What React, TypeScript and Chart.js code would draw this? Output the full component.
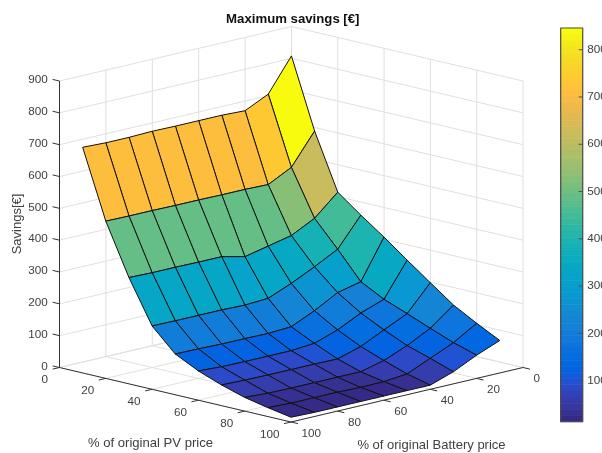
import React, { useEffect, useRef } from "react";
import { Chart, registerables } from "chart.js";

Chart.register(...registerables);

// ---- data ----
const pvPct = [10, 20, 30, 40, 50, 60, 70, 80, 90, 100];
const batteryPct = [100, 90, 80, 70, 60, 50, 40, 30, 20, 10];
const savingsPv10 = [709, 706, 706, 708, 707, 707, 707, 704, 739, 842];
const savingsPv20 = [494, 493, 493, 492, 492, 491, 491, 489, 526, 623];
const savingsPv30 = [334, 332, 332, 331, 331, 314, 330, 346, 383, 448];
const savingsPv40 = [199, 198, 198, 198, 196, 200, 230, 265, 303, 393];
const savingsPv50 = [128, 127, 125, 125, 124, 128, 161, 201, 218, 341];
const savingsPv60 = [92, 88, 87, 87, 87, 93, 118, 154, 180, 286];
const savingsPv70 = [65, 63, 62, 62, 62, 61, 83, 118, 152, 232];
const savingsPv80 = [43, 39, 38, 38, 38, 38, 56, 86, 123, 179];
const savingsPv90 = [28, 25, 25, 25, 23, 24, 31, 63, 95, 139];
const savingsPv100 = [15, 13, 13, 13, 13, 13, 13, 38, 73, 102];
const savingsRows = [
  savingsPv10, savingsPv20, savingsPv30, savingsPv40, savingsPv50,
  savingsPv60, savingsPv70, savingsPv80, savingsPv90, savingsPv100,
];
const axisTicks = [0, 20, 40, 60, 80, 100];
const zTicks = [0, 100, 200, 300, 400, 500, 600, 700, 800, 900];
const colorbarTicks = [100, 200, 300, 400, 500, 600, 700, 800];
const colorMin = 13;
const colorMax = 846;
const parula = [
  [0.2081,0.1663,0.5292],[0.2116,0.1898,0.5777],[0.2123,0.2138,0.627],[0.2081,0.2386,0.6771],
  [0.1959,0.2645,0.7279],[0.1707,0.2919,0.7792],[0.1253,0.3242,0.8303],[0.0591,0.3598,0.8683],
  [0.0117,0.3875,0.882],[0.006,0.4086,0.8828],[0.0165,0.4266,0.8786],[0.0329,0.443,0.872],
  [0.0498,0.4586,0.8641],[0.0629,0.4737,0.8554],[0.0723,0.4887,0.8467],[0.0779,0.504,0.8384],
  [0.0793,0.52,0.8312],[0.0749,0.5375,0.8263],[0.0641,0.557,0.824],[0.0488,0.5772,0.8228],
  [0.0343,0.5966,0.8199],[0.0265,0.6137,0.8135],[0.0239,0.6287,0.8038],[0.0231,0.6418,0.7913],
  [0.0228,0.6535,0.7768],[0.0267,0.6642,0.7607],[0.0384,0.6743,0.7436],[0.059,0.6838,0.7254],
  [0.0843,0.6928,0.7062],[0.1133,0.7015,0.6859],[0.1453,0.7098,0.6646],[0.1801,0.7177,0.6424],
  [0.2178,0.725,0.6193],[0.2586,0.7317,0.5954],[0.3022,0.7376,0.5712],[0.3482,0.7424,0.5473],
  [0.3953,0.7459,0.5244],[0.442,0.7481,0.5033],[0.4871,0.7491,0.484],[0.53,0.7491,0.4661],
  [0.5709,0.7485,0.4494],[0.6099,0.7473,0.4337],[0.6473,0.7456,0.4188],[0.6834,0.7435,0.4044],
  [0.7184,0.7411,0.3905],[0.7525,0.7384,0.3768],[0.7858,0.7356,0.3633],[0.8185,0.7327,0.3498],
  [0.8507,0.7299,0.336],[0.8824,0.7274,0.3217],[0.9139,0.7258,0.3063],[0.945,0.7261,0.2886],
  [0.9739,0.7314,0.2666],[0.9938,0.7455,0.2403],[0.999,0.7653,0.2164],[0.9955,0.7861,0.1967],
  [0.988,0.8066,0.1794],[0.9789,0.8271,0.1633],[0.9697,0.8481,0.1475],[0.9626,0.8705,0.1309],
  [0.9589,0.8949,0.1132],[0.9598,0.9218,0.0948],[0.9661,0.9514,0.0755],[0.9763,0.9831,0.0538],
];

// ---- view of the 3-D box: where a (pv, battery, savings) triple lands in plot units ----
const W = 602;
const H = 453;
const BAR_LEFT = 560.7;
const BAR_RIGHT = 582.7;
const BAR_TOP = 28;
const BAR_BOTTOM = 421.7;
const view = { x0: 59.5, y0: 367.5, xp: 2.315, xb: 2.32, yp: 0.545, yb: 0.545, yz: 0.3183 };
const project = (pv: number, batt: number, z: number) => ({
  x: view.x0 + view.xp * pv + view.xb * (100 - batt),
  y: view.y0 + view.yp * pv - view.yb * (100 - batt) - view.yz * z,
});

const toCss = (c: number[]) =>
  `rgb(${Math.round(c[0] * 255)},${Math.round(c[1] * 255)},${Math.round(c[2] * 255)})`;
const colorOf = (z: number) => {
  const n = parula.length;
  const k = Math.floor(((z - colorMin) / (colorMax - colorMin)) * n);
  return toCss(parula[Math.max(0, Math.min(n - 1, k))]);
};

const polyline = (data: any[], color: string, width: number, extra: any = {}) => ({
  type: "scatter",
  data,
  showLine: true,
  borderColor: color,
  borderWidth: width,
  pointRadius: 0,
  pointHoverRadius: 0,
  tension: 0,
  fill: false,
  clip: false,
  borderJoinStyle: "round",
  ...extra,
});

const GRID = "#dfdfdf";
const AXIS = "#333333";

function buildDatasets() {
  const out: any[] = [];

  // surface: nearest faces first because Chart.js paints the first dataset last
  for (let i = pvPct.length - 2; i >= 0; i--) {
    for (let j = 0; j < batteryPct.length - 1; j++) {
      const a = project(pvPct[i], batteryPct[j], savingsRows[i][j]);
      const b = project(pvPct[i], batteryPct[j + 1], savingsRows[i][j + 1]);
      const c = project(pvPct[i + 1], batteryPct[j + 1], savingsRows[i + 1][j + 1]);
      const d = project(pvPct[i + 1], batteryPct[j], savingsRows[i + 1][j]);
      out.push(
        polyline([a, b, c, d, a], "#111111", 1, {
          fill: "shape",
          backgroundColor: colorOf(savingsRows[i][j + 1]),
        })
      );
    }
  }

  // axes and tick marks
  out.push(polyline([project(0, 100, 0), project(100, 100, 0), project(100, 0, 0)], AXIS, 1));
  out.push(polyline([project(0, 100, 0), project(0, 100, 900)], AXIS, 1));
  for (const v of axisTicks) {
    out.push(polyline([project(v, 100, 0), project(v, 103, 0)], AXIS, 1));
    out.push(polyline([project(100, v, 0), project(103, v, 0)], AXIS, 1));
  }
  for (const z of zTicks) {
    out.push(polyline([project(0, 100, z), project(-3, 100, z)], AXIS, 1));
  }

  // walls and floor grid
  for (const v of axisTicks) {
    out.push(polyline([project(0, v, 0), project(0, v, 900)], GRID, 1));
    out.push(polyline([project(v, 0, 0), project(v, 0, 900)], GRID, 1));
    out.push(polyline([project(v, 100, 0), project(v, 0, 0)], GRID, 1));
    out.push(polyline([project(0, v, 0), project(100, v, 0)], GRID, 1));
  }
  for (const z of zTicks) {
    out.push(polyline([project(0, 100, z), project(0, 0, z), project(100, 0, z)], GRID, 1));
  }

  // colour bar: frame and ticks above, then the colour levels
  const frameColor = "#4d4d4d";
  for (const t of colorbarTicks) {
    out.push(
      polyline([{ x: BAR_RIGHT - 4, y: t }, { x: BAR_RIGHT, y: t }], frameColor, 1, { yAxisID: "yc" })
    );
  }
  out.push(
    polyline(
      [
        { x: BAR_LEFT, y: colorMin }, { x: BAR_RIGHT, y: colorMin },
        { x: BAR_RIGHT, y: colorMax }, { x: BAR_LEFT, y: colorMax }, { x: BAR_LEFT, y: colorMin },
      ],
      frameColor, 1.2, { yAxisID: "yc" }
    )
  );
  parula.forEach((c, k) => {
    const lo = colorMin + ((colorMax - colorMin) * k) / parula.length;
    const hi = colorMin + ((colorMax - colorMin) * (k + 1)) / parula.length;
    out.push(
      polyline(
        [{ x: BAR_LEFT, y: lo }, { x: BAR_RIGHT, y: lo }, { x: BAR_RIGHT, y: hi }, { x: BAR_LEFT, y: hi }, { x: BAR_LEFT, y: lo }],
        toCss(c), 0.6, { yAxisID: "yc", fill: "shape", backgroundColor: toCss(c) }
      )
    );
  });
  return out;
}

const FONT = '"Liberation Sans", Arial, sans-serif';
const TEXT = "#404040";

const textPlugin = {
  id: "boxText",
  afterDraw(chart: any) {
    const { ctx, scales } = chart;
    const px = (p: { x: number; y: number }) => ({
      x: scales.x.getPixelForValue(p.x),
      y: scales.y.getPixelForValue(p.y),
    });
    const put = (s: string, x: number, y: number, align: CanvasTextAlign, font: string, color = TEXT) => {
      ctx.font = font;
      ctx.fillStyle = color;
      ctx.textAlign = align;
      ctx.textBaseline = "middle";
      ctx.fillText(s, x, y);
    };
    ctx.save();
    const tickFont = `11.7px ${FONT}`;
    for (const v of axisTicks) {
      const a = px(project(v, 100, 0));
      put(String(v), a.x - 11.5, a.y + 12.3, "right", tickFont);
      const b = px(project(100, v, 0));
      put(String(v), b.x + 10.5, b.y + 11.5, "left", tickFont);
    }
    for (const z of zTicks) {
      const a = px(project(0, 100, z));
      put(String(z), a.x - 11.8, a.y - 1, "right", tickFont);
    }
    put("Maximum savings [€]", 292.8, 19.4, "center", `bold 13.2px ${FONT}`, "#111111");
    put("% of original PV price", 150.5, 443, "center", `13.1px ${FONT}`);
    put("% of original Battery price", 431.5, 445, "center", `13px ${FONT}`);
    ctx.translate(17, 224);
    ctx.rotate(-Math.PI / 2);
    put("Savings[€]", 0, 0, "center", `13px ${FONT}`);
    ctx.restore();
  },
};

export default function App() {
  const ref = useRef<HTMLCanvasElement | null>(null);
  useEffect(() => {
    if (!ref.current) return;
    const chart = new Chart(ref.current, {
      type: "scatter",
      data: { datasets: buildDatasets() as any },
      options: {
        animation: false,
        responsive: false,
        events: [],
        layout: { padding: { top: BAR_TOP, bottom: H - BAR_BOTTOM, left: 0, right: 0 } },
        plugins: { legend: { display: false }, tooltip: { enabled: false }, title: { display: false } },
        scales: {
          x: { type: "linear", display: false, min: 0, max: BAR_RIGHT },
          y: { type: "linear", display: false, reverse: true, min: BAR_TOP, max: BAR_BOTTOM },
          yc: {
            type: "linear",
            position: "right",
            min: colorMin,
            max: colorMax,
            afterFit: (s: any) => { s.width = W - BAR_RIGHT; },
            afterBuildTicks: (s: any) => { s.ticks = colorbarTicks.map((value) => ({ value })); },
            grid: { display: false, drawTicks: false },
            border: { display: false },
            ticks: {
              autoSkip: false,
              padding: 4.5,
              color: TEXT,
              font: { family: FONT, size: 11.7 },
            },
          },
        },
      } as any,
      plugins: [textPlugin as any],
    });
    return () => chart.destroy();
  }, []);
  return (
    <div style={{ position: "fixed", left: 0, top: 0, width: W, height: H, overflow: "hidden", background: "#fff" }}>
      <canvas ref={ref} width={W} height={H} style={{ display: "block" }} />
    </div>
  );
}
